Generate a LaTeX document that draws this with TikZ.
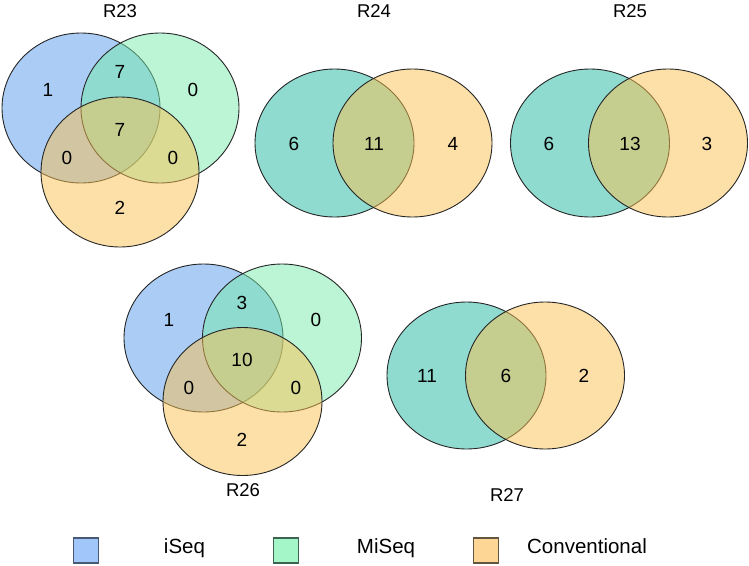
\documentclass[tikz,border=0pt]{standalone}
\usepackage{fontspec}
\setmainfont{Liberation Sans}
\definecolor{cblue}{RGB}{85,153,235}
\definecolor{cgreen}{RGB}{119,235,171}
\definecolor{corange}{RGB}{251,193,81}
\definecolor{lblue}{RGB}{160,198,250}
\definecolor{lgreen}{RGB}{164,246,200}
\definecolor{lorange}{RGB}{253,213,148}
\begin{document}
\begin{tikzpicture}[x=1pt,y=-1pt,
  setA/.style={fill=cblue,fill opacity=0.5,draw=black!85,line width=0.9},
  setB/.style={fill=cgreen,fill opacity=0.5,draw=black!85,line width=0.9},
  setC/.style={fill=corange,fill opacity=0.5,draw=black!85,line width=0.9},
  num/.style={font=\fontsize{19}{21}\selectfont,inner sep=0pt},
  ttl/.style={font=\fontsize{18.5}{21}\selectfont,inner sep=0pt},
  lbox/.style={minimum size=25pt,inner sep=0pt,line width=1.2},
  ltxt/.style={font=\fontsize{20.5}{22}\selectfont,inner sep=0pt,anchor=base}]
\useasboundingbox (0,0) rectangle (749,565);
% R23
\path[setA] (81,108) ellipse [x radius=79,y radius=75];
\path[setB] (160,108) ellipse [x radius=79,y radius=75];
\path[setC] (120,172) ellipse [x radius=79,y radius=75];
\node[ttl] (t23) at (120,11) {R23};
\node[num] (a1) at (48,90) {1};
\node[num] (a2) at (120,72) {7};
\node[num] (a3) at (193,90) {0};
\node[num] (a4) at (120,130) {7};
\node[num] (a5) at (67,158) {0};
\node[num] (a6) at (173,158) {0};
\node[num] (a7) at (120,208) {2};
% R24
\path[setA,draw=none] (334.5,143) ellipse [x radius=79.5,y radius=74];
\path[setB] (334.5,143) ellipse [x radius=79.5,y radius=74];
\path[setC] (412.5,143) ellipse [x radius=79.5,y radius=74];
\node[ttl] (t24) at (374,11) {R24};
\node[num] (b1) at (294,144) {6};
\node[num] (b2) at (374,144) {11};
\node[num] (b3) at (453,144) {4};
% R25
\path[setA,draw=none] (590,143) ellipse [x radius=79.5,y radius=74];
\path[setB] (590,143) ellipse [x radius=79.5,y radius=74];
\path[setC] (668,143) ellipse [x radius=79.5,y radius=74];
\node[ttl] (t25) at (630,11) {R25};
\node[num] (c1) at (549,144) {6};
\node[num] (c2) at (630,144) {13};
\node[num] (c3) at (707,144) {3};
% R26
\path[setA] (203.5,338) ellipse [x radius=79.5,y radius=74];
\path[setB] (282,338) ellipse [x radius=79.5,y radius=74];
\path[setC] (242.5,401.5) ellipse [x radius=79.5,y radius=74];
\node[ttl] (t26) at (243,490) {R26};
\node[num] (d1) at (169,320) {1};
\node[num] (d2) at (242,303) {3};
\node[num] (d3) at (316,320) {0};
\node[num] (d4) at (242,360) {10};
\node[num] (d5) at (189,388) {0};
\node[num] (d6) at (296,388) {0};
\node[num] (d7) at (242,440) {2};
% R27
\path[setA,draw=none] (466.5,375.5) ellipse [x radius=79.5,y radius=73.5];
\path[setB] (466.5,375.5) ellipse [x radius=79.5,y radius=73.5];
\path[setC] (545,375.5) ellipse [x radius=79.5,y radius=73.5];
\node[ttl] (t27) at (507,495) {R27};
\node[num] (e1) at (427,376) {11};
\node[num] (e2) at (506,376) {6};
\node[num] (e3) at (584,376) {2};
% legend
\node[lbox,fill=lblue,draw={rgb,255:red,70;green,90;blue,115}] (k1) at (86,550.5) {};
\node[lbox,fill=lgreen,draw={rgb,255:red,60;green,100;blue,80}] (k2) at (286,550.5) {};
\node[lbox,fill=lorange,draw={rgb,255:red,100;green,85;blue,65}] (k3) at (486,550.5) {};
\node[ltxt] (l1) at (184.5,553) {iSeq};
\node[ltxt] (l2) at (386,553) {MiSeq};
\node[ltxt] (l3) at (587,553) {Conventional};
\end{tikzpicture}
\end{document}
